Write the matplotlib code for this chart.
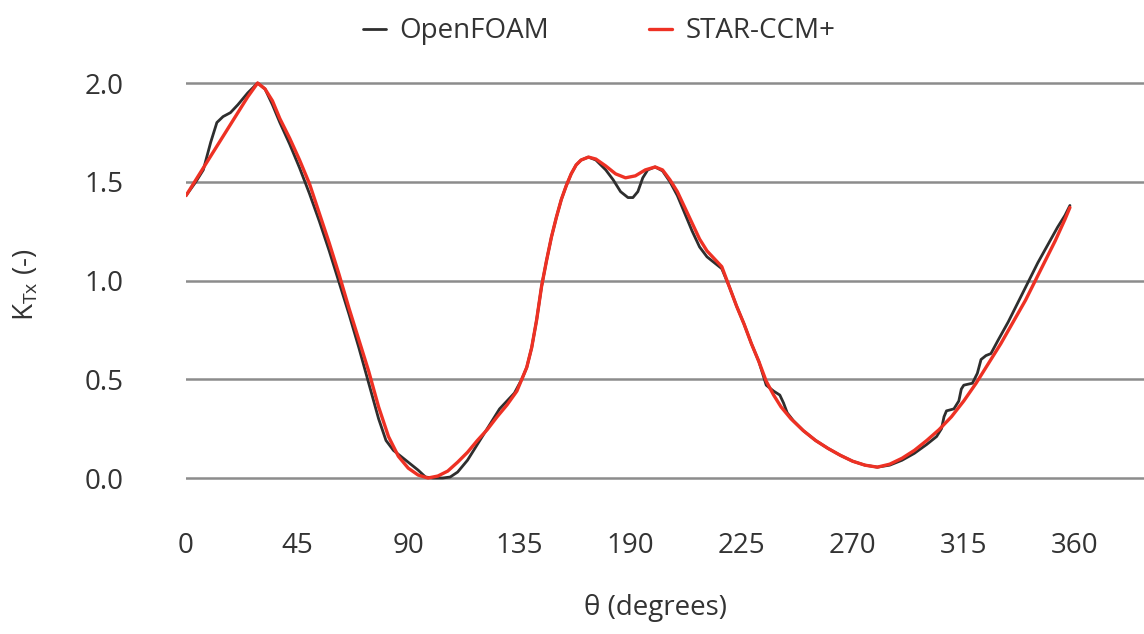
import numpy as np
import matplotlib.pyplot as plt

plt.rcParams['font.family'] = ['Open Sans', 'DejaVu Sans']
plt.rcParams['mathtext.fontset'] = 'custom'
plt.rcParams['mathtext.rm'] = 'Open Sans'
plt.rcParams['mathtext.it'] = 'Open Sans'

# STAR-CCM+ torque coefficient vs. rotor angle
theta_star = [0, 5, 10, 15, 20, 25, 29, 32, 35, 38, 42, 46, 50, 54, 58, 62, 66, 70, 74, 78,
              82, 86, 90, 94, 98, 102, 106, 110, 114, 118, 122, 126, 130, 134, 136, 138, 140,
              142, 144, 146, 148, 150, 152, 154, 156, 158, 160, 163, 166, 170, 174, 178, 182,
              186, 190, 193, 196, 199, 202, 205, 208, 211, 214, 217, 220, 223, 226, 229, 232,
              235, 238, 241, 245, 250, 255, 260, 265, 270, 275, 280, 285, 290, 295, 300, 305,
              310, 315, 320, 325, 330, 335, 340, 344, 348, 352, 356, 358]
k_star = [1.43, 1.53, 1.63, 1.73, 1.83, 1.93, 2.00, 1.97, 1.91, 1.82, 1.72, 1.61, 1.49, 1.34,
          1.19, 1.03, 0.86, 0.70, 0.54, 0.36, 0.21, 0.11, 0.05, 0.015, 0.00, 0.01, 0.035, 0.08,
          0.13, 0.19, 0.245, 0.31, 0.37, 0.44, 0.50, 0.56, 0.66, 0.80, 0.97, 1.10, 1.22, 1.32,
          1.41, 1.48, 1.54, 1.585, 1.61, 1.625, 1.615, 1.58, 1.54, 1.52, 1.53, 1.56, 1.575,
          1.56, 1.51, 1.45, 1.37, 1.29, 1.21, 1.15, 1.11, 1.07, 0.97, 0.87, 0.78, 0.68, 0.59,
          0.49, 0.42, 0.36, 0.30, 0.24, 0.19, 0.15, 0.115, 0.085, 0.065, 0.055, 0.07, 0.10,
          0.14, 0.19, 0.245, 0.31, 0.39, 0.48, 0.58, 0.68, 0.79, 0.90, 1.00, 1.10, 1.20, 1.31,
          1.37]

# OpenFOAM torque coefficient vs. rotor angle
theta_of = [0, 4, 7, 10, 12.5, 15, 18, 21, 25, 29, 32, 35, 38, 42, 46, 50, 54, 58, 62, 66, 70,
            74, 78, 81, 84, 87, 91, 94, 97, 100, 104, 107, 110, 114, 117, 120, 124, 127, 130,
            133, 136, 138, 140, 142, 144, 146, 148, 150, 152, 154, 156, 158, 160, 163, 166,
            170, 173, 176, 179, 181, 183, 185, 187, 190, 193, 196, 199, 202, 205, 208, 211,
            214, 217, 220, 223, 226, 229, 232, 235, 238, 240.5, 242, 243.5, 246, 250, 255, 260,
            265, 270, 275, 280, 285, 290, 295, 300, 304, 306, 307, 308, 311, 313, 314, 315,
            318.5, 320.5, 322, 324, 326, 329, 333, 337, 341, 345, 349, 353, 356, 358]
k_of = [1.43, 1.50, 1.56, 1.70, 1.80, 1.83, 1.85, 1.89, 1.95, 2.00, 1.97, 1.89, 1.80, 1.69,
        1.57, 1.44, 1.30, 1.15, 0.99, 0.83, 0.66, 0.48, 0.30, 0.19, 0.14, 0.11, 0.07, 0.04,
        0.005, 0.0, 0.0, 0.005, 0.03, 0.09, 0.15, 0.21, 0.29, 0.35, 0.39, 0.43, 0.50, 0.56,
        0.66, 0.80, 0.97, 1.10, 1.22, 1.32, 1.41, 1.48, 1.54, 1.585, 1.61, 1.625, 1.61, 1.56,
        1.51, 1.45, 1.42, 1.42, 1.45, 1.52, 1.56, 1.575, 1.555, 1.50, 1.43, 1.34, 1.25, 1.17,
        1.12, 1.09, 1.06, 0.97, 0.87, 0.78, 0.68, 0.59, 0.47, 0.44, 0.42, 0.38, 0.33, 0.29,
        0.24, 0.19, 0.15, 0.115, 0.085, 0.065, 0.055, 0.065, 0.09, 0.125, 0.17, 0.21, 0.25,
        0.31, 0.34, 0.35, 0.39, 0.45, 0.47, 0.48, 0.53, 0.60, 0.62, 0.63, 0.70, 0.79, 0.89,
        0.99, 1.09, 1.18, 1.27, 1.33, 1.38]

x_ticks = [0, 45, 90, 135, 180, 225, 270, 315, 360]
x_labels = ['0', '45', '90', '135', '190', '225', '270', '315', '360']
y_ticks = [0.0, 0.5, 1.0, 1.5, 2.0]

txt = '#333333'
fs = 20

fig = plt.figure(figsize=(11.44, 6.34), dpi=100)
ax = fig.add_axes([0.1626, 0.2149, 0.8374, 0.6853])

ax.plot(theta_of, k_of, color='#2e2e2e', lw=2.0, solid_joinstyle='round',
        solid_capstyle='round', label='OpenFOAM', zorder=3)
ax.plot(theta_star, k_star, color='#ee3124', lw=2.4, solid_joinstyle='round',
        solid_capstyle='round', label='STAR-CCM+', zorder=4)

ax.set_xlim(0, 388)
ax.set_ylim(-0.1, 2.1)
ax.set_xticks(x_ticks)
ax.set_xticklabels(x_labels)
ax.set_yticks(y_ticks)
ax.set_yticklabels([f'{v:.1f}' for v in y_ticks])

# only horizontal grid lines, no frame
ax.grid(axis='y', color='#8c8c8c', lw=1.8)
ax.set_axisbelow(True)
for s in ax.spines.values():
    s.set_visible(False)
ax.tick_params(length=0, labelsize=fs, colors=txt)
ax.tick_params(axis='y', pad=45)
ax.tick_params(axis='x', pad=25)

ax.set_xlabel('θ (degrees)', fontsize=fs, color=txt)
ax.xaxis.set_label_coords(0.49, -0.222)
ax.set_ylabel(r'K$_{\mathrm{Tx}}$ (-)', fontsize=fs, color=txt)
ax.yaxis.set_label_coords(-0.152, 0.49)

leg = fig.legend(loc='upper center', bbox_to_anchor=(0.524, 1.012), ncol=2, frameon=False,
                 fontsize=fs, handlelength=0.8, columnspacing=3.6, handletextpad=0.5)
for t in leg.get_texts():
    t.set_color(txt)

fig.savefig('out.png', dpi=100, facecolor='white')
